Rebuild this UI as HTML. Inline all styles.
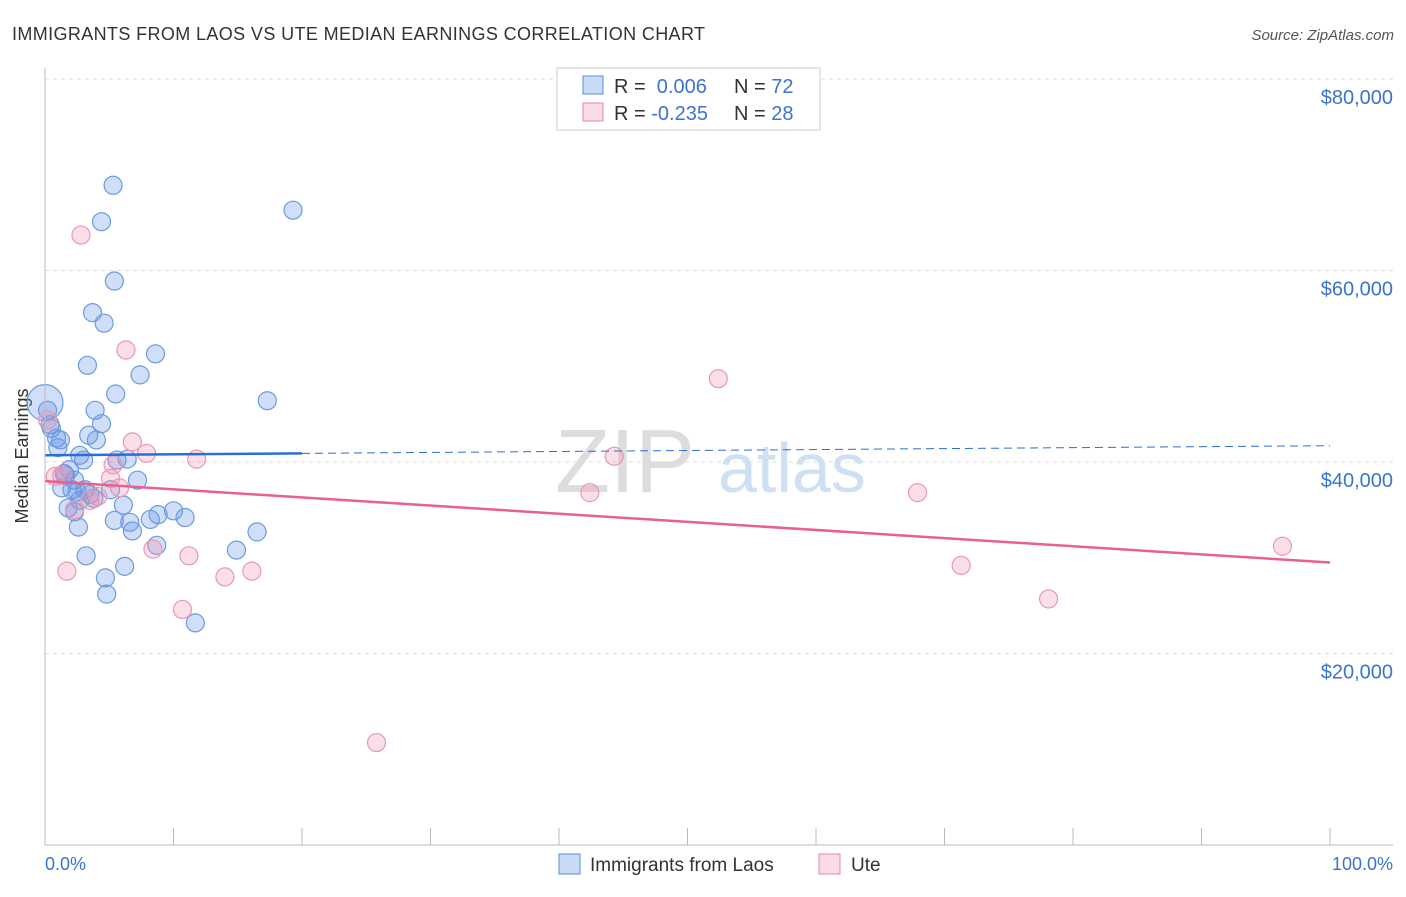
<!DOCTYPE html>
<html><head><meta charset="utf-8"><style>
body{margin:0;background:#fff;font-family:"Liberation Sans",sans-serif}
svg text{font-family:"Liberation Sans",sans-serif}
</style></head><body>
<svg id="c" width="1406" height="892">
<text x="12" y="40" font-size="18" fill="#333" textLength="693">IMMIGRANTS FROM LAOS VS UTE MEDIAN EARNINGS CORRELATION CHART</text>
<text x="1394" y="40" font-size="15" fill="#555" font-style="italic" text-anchor="end">Source: ZipAtlas.com</text>
<text x="28" y="456" font-size="18" fill="#333" text-anchor="middle" transform="rotate(-90 28 456)">Median Earnings</text>
<text x="555" y="492" font-size="90" fill="#ddd" font-family="Liberation Serif">ZIP</text>
<text x="718" y="492" font-size="70" fill="#cfe0f5">atlas</text>
<g id="grid"></g><g id="pts"></g><g id="lines"></g>
<line x1="45" y1="68" x2="45" y2="845" stroke="#bbb"/>
<line x1="45" y1="845" x2="1393" y2="845" stroke="#bbb"/>
<g id="xt"></g>
<text x="45" y="870" font-size="18" fill="#3b73d1">0.0%</text>
<text x="1393" y="870" font-size="18" fill="#3b73d1" text-anchor="end">100.0%</text>
<g>
<rect x="557" y="68" width="263" height="62" fill="#fff" stroke="#ccc"/>
<rect x="583" y="76" width="20" height="18" fill="rgba(100,150,230,0.35)" stroke="#5b8fd9"/>
<rect x="583" y="103" width="20" height="18" fill="rgba(240,150,180,0.35)" stroke="#e88aa8"/>
<text x="614" y="93" font-size="20" fill="#333">R = <tspan fill="#3b73d1">&#160;0.006</tspan><tspan x="734">N = </tspan><tspan fill="#3b73d1">72</tspan></text>
<text x="614" y="120" font-size="20" fill="#333">R = <tspan fill="#3b73d1">-0.235</tspan><tspan x="734">N = </tspan><tspan fill="#3b73d1">28</tspan></text>
</g>
<g>
<rect x="559" y="854" width="21" height="20" fill="rgba(100,150,230,0.35)" stroke="#5b8fd9"/>
<text x="590" y="871" font-size="19" fill="#333">Immigrants from Laos</text>
<rect x="819" y="854" width="21" height="20" fill="rgba(240,150,180,0.35)" stroke="#e88aa8"/>
<text x="851" y="871" font-size="19" fill="#333">Ute</text>
</g>
</svg>
<script>
const yTicks=[20000,40000,60000,80000];
const yTickLabels=["$20,000","$40,000","$60,000","$80,000"];
const blueX=[5.3,4.4,19.3,5.4,3.7,4.6,3.3,8.6,7.4,5.5,17.3,3.9,4.4,0.2,0.4,0.9,1.2,3.4,4.0,2.7,3.0,5.6,6.4,1.9,1.6,2.3,1.3,2.1,3.1,3.5,2.7,5.1,7.2,6.1,1.8,2.3,2.6,5.4,6.6,8.2,8.8,10.0,10.9,6.8,8.7,14.9,16.5,3.2,6.2,4.7,4.8,11.7,1.0,1.5,2.5,3.8,0.5];
const blueY=[68900,65100,66300,58900,55600,54500,50100,51300,49100,47100,46400,45400,44000,45400,43900,42500,42300,42800,42300,40700,40200,40200,40300,39200,38600,38100,37300,37100,37100,36600,36000,37100,38100,35500,35200,34800,33200,33900,33700,34000,34500,34900,34200,32800,31300,30800,32700,30200,29100,27900,26200,23200,41500,38800,36900,36200,43500];
const pinkX=[2.8,6.3,52.4,6.8,7.9,11.8,44.3,0.8,5.1,5.3,5.8,4.1,3.5,2.3,8.4,11.2,1.7,14.0,16.1,10.7,42.4,67.9,71.3,78.1,96.3,25.8,1.3,0.2];
const pinkY=[63700,51700,48700,42100,40900,40300,40600,38500,38300,39700,37300,36400,36000,35000,30900,30200,28600,28000,28600,24600,36800,36800,29200,25700,31200,10700,38600,44400];
const bigX=[0], bigY=[46200];
const blueFit=[40700,41700], pinkFit=[38000,29500], blueSolidEnd=20;
const NS="http://www.w3.org/2000/svg";
const X=v=>45+v*12.85, Y=v=>845-v/20000*191.5;
function mk(t,a,p){const e=document.createElementNS(NS,t);for(const k in a)e.setAttribute(k,a[k]);p.appendChild(e);return e;}
const grid=document.getElementById('grid');
yTicks.forEach((t,i)=>{
 const l=mk('line',{x1:45,x2:1393,y1:Y(t),y2:Y(t),stroke:'#ddd','stroke-dasharray':'4,4'},grid);
 
 
 const tx=mk('text',{x:1393,y:Y(t)+25,'font-size':20,fill:'#3b73d1','text-anchor':'end'},grid);
 tx.textContent=yTickLabels[i];
 
 
});
const xt=document.getElementById('xt');
for(let i=0;i<=10;i++){const l=mk('line',{x1:X(i*10),x2:X(i*10),y1:828,y2:845,stroke:'#bbb'},xt);
 
 }
const pts=document.getElementById('pts');
bigX.forEach((x,i)=>{const c=mk('circle',{cx:X(x),cy:Y(bigY[i]),r:18,fill:'rgba(100,150,230,0.3)',stroke:'#6b9be0','stroke-width':1.2},pts);
 
 });
blueX.forEach((x,i)=>{const c=mk('circle',{cx:X(x),cy:Y(blueY[i]),r:9,fill:'rgba(100,150,230,0.3)',stroke:'#6b9be0','stroke-width':1.2},pts);
 
 });
pinkX.forEach((x,i)=>{const c=mk('circle',{cx:X(x),cy:Y(pinkY[i]),r:9,fill:'rgba(240,150,180,0.3)',stroke:'#eb97b2','stroke-width':1.2},pts);
 
 });
const ln=document.getElementById('lines');
const bAt=x=>blueFit[0]+(blueFit[1]-blueFit[0])*x/100;
let l1=mk('line',{x1:X(0),y1:Y(bAt(0)),x2:X(blueSolidEnd),y2:Y(bAt(blueSolidEnd)),stroke:'#2a6fd6','stroke-width':2.5},ln);


let l2=mk('line',{x1:X(blueSolidEnd),y1:Y(bAt(blueSolidEnd)),x2:X(100),y2:Y(bAt(100)),stroke:'#2a6fd6','stroke-width':1,'stroke-dasharray':'8,5'},ln);


let l3=mk('line',{x1:X(0),y1:Y(pinkFit[0]),x2:X(100),y2:Y(pinkFit[1]),stroke:'#e8608e','stroke-width':2.5},ln);


</script>
</body></html>
